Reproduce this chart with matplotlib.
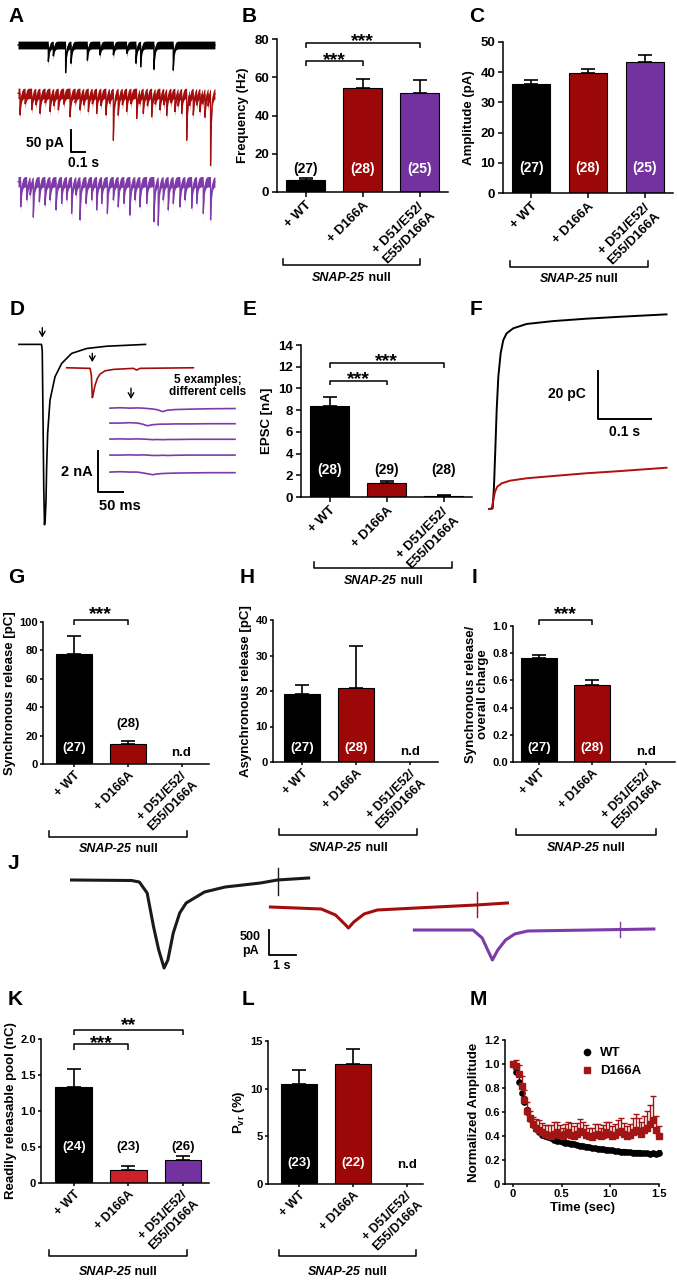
import numpy as np
import matplotlib
matplotlib.use('Agg')
import matplotlib.pyplot as plt
import matplotlib.transforms as mtrans
from matplotlib.lines import Line2D

W, H = 677, 1280
FONT = 'Liberation Sans'
plt.rcParams['font.family'] = [FONT, 'DejaVu Sans']
plt.rcParams['font.weight'] = 'bold'
plt.rcParams['axes.labelweight'] = 'bold'
plt.rcParams['mathtext.fontset'] = 'custom'
plt.rcParams['mathtext.rm'] = FONT + ':bold'
plt.rcParams['axes.linewidth'] = 1.1

BLACK, RED, PURPLE, RED2 = '#000000', '#9c0808', '#7332a0', '#cc2128'
TR_RED, TR_PURPLE = '#a30d0d', '#7d3aa8'

groups = ['+ WT', '+ D166A', '+ D51/E52/\nE55/D166A']

# ---------------- A: spontaneous events (time s, amplitude pA) ----------------
a_wt_t = [0.212, 0.247, 0.333, 0.371, 0.485, 0.573, 0.667, 0.760, 0.825, 0.858, 0.951, 1.086]
a_wt_amp = [38, 25, 64, 42, 35, 23, 23, 19, 42, 50, 56, 58]
a_ko_t = [0.014, 0.050, 0.096, 0.125, 0.154, 0.190, 0.224, 0.250, 0.282, 0.320, 0.364, 0.400,
          0.434, 0.460, 0.492, 0.520, 0.550, 0.580, 0.615, 0.640, 0.667, 0.701, 0.730, 0.760,
          0.790, 0.830, 0.850, 0.876, 0.905, 0.935, 0.960, 0.993, 1.020, 1.040, 1.070, 1.098,
          1.120, 1.145, 1.180, 1.200, 1.226, 1.250, 1.273, 1.290, 1.308, 1.330, 1.347]
a_ko_amp = [50, 24, 38, 26, 46, 22, 42, 28, 38, 25, 54, 22, 38, 26, 42, 24, 46, 28, 50, 22,
            108, 50, 26, 42, 24, 58, 22, 46, 28, 54, 24, 38, 26, 50, 22, 42, 28, 46, 108, 24,
            50, 26, 42, 22, 54, 28, 165]
a_mu_t = [0.019, 0.061, 0.085, 0.107, 0.149, 0.189, 0.224, 0.266, 0.305, 0.340, 0.375, 0.405,
          0.434, 0.476, 0.515, 0.550, 0.585, 0.625, 0.667, 0.701, 0.741, 0.783, 0.818, 0.853,
          0.900, 0.951, 0.981, 1.016, 1.051, 1.086, 1.133, 1.168, 1.215, 1.250, 1.296, 1.347]
a_mu_amp = [58, 42, 30, 81, 46, 54, 42, 65, 50, 42, 73, 30, 88, 50, 42, 65, 50, 73, 42, 58,
            50, 77, 42, 58, 50, 92, 100, 42, 65, 50, 58, 42, 61, 50, 73, 88]

# ---------------- B, C, E: bar data ----------------
b_freq = [6.1, 54.3, 51.6]
b_freq_err = [1.3, 4.9, 6.9]
b_n = [27, 28, 25]
c_amp = [36.2, 39.6, 43.3]
c_amp_err = [1.3, 1.5, 2.4]
c_n = [27, 28, 25]
e_epsc = [8.37, 1.29, 0.12]
e_epsc_err = [0.86, 0.19, 0.03]
e_n = [28, 29, 28]

# ---------------- D: evoked EPSCs (ms, nA) ----------------
d_wt_t = [0, 45, 46.5, 48, 49.5, 51, 52.5, 54, 55.3, 57.3, 62, 72, 85.3, 105.3, 135.3, 175.3, 253]
d_wt_i = [0, 0, -0.3, -3.5, -7.0, -8.8, -8.5, -7.6, -5.97, -4.34, -2.72, -1.58, -0.93, -0.44,
          -0.2, -0.09, 0]
d_ko_t = [0, 46.7, 49.3, 51.3, 53.3, 56.7, 61.3, 66.7, 76.7, 93.3, 133.3, 140, 146.7, 253.3]
d_ko_i = [0, -0.03, -0.36, -1.46, -1.25, -0.85, -0.52, -0.31, -0.15, -0.08, -0.03, -0.11, -0.03, 0]
d_mu_t = [0, 20, 40, 55, 65, 75, 85, 95, 105, 115, 130, 160, 200, 250]
d_mu_1 = [0, 0.02, 0, 0.01, 0, -0.02, -0.04, -0.08, -0.17, -0.10, -0.07, -0.05, -0.03, -0.02]
d_mu_2 = [0, 0, 0.02, 0, -0.05, -0.13, -0.08, -0.06, -0.05, -0.05, -0.04, -0.04, -0.03, -0.03]
d_mu_3 = [0, 0.01, 0, 0.01, 0, -0.01, -0.03, -0.02, -0.03, -0.02, -0.02, -0.01, -0.01, -0.01]
d_mu_4 = [0, 0, 0.01, 0, 0.01, 0, -0.02, -0.02, -0.01, -0.02, -0.01, 0, 0, 0]
d_mu_5 = [0, 0.02, 0, 0, -0.04, -0.08, -0.13, -0.09, -0.07, -0.06, -0.05, -0.04, -0.03, -0.03]

# ---------------- F: cumulative charge (s, pC) ----------------
f_wt_t = [0, 0.0069, 0.0094, 0.0119, 0.0145, 0.0176, 0.022, 0.027, 0.0333, 0.0459, 0.0711,
          0.1214, 0.1843, 0.2472, 0.3352]
f_wt_q = [0, 0.3, 9.3, 24.6, 41.3, 55.1, 64.9, 70.4, 73.2, 75.3, 77.1, 78.3, 79.3, 80.1, 81.1]
f_ko_t = [0, 0.005, 0.0082, 0.0113, 0.0157, 0.024, 0.0396, 0.0711, 0.1214, 0.1843, 0.2472, 0.3352]
f_ko_q = [0, 0, 3.75, 7.2, 9.3, 10.7, 11.8, 12.8, 13.75, 14.9, 15.8, 17.2]

# ---------------- G, H, I ----------------
g_sync = [77.4, 14.2, None]
g_sync_err = [12.4, 2.1, None]
g_n = [27, 28]
h_async = [19.2, 20.9, None]
h_async_err = [2.4, 11.8, None]
h_n = [27, 28]
i_ratio = [0.765, 0.565, None]
i_ratio_err = [0.022, 0.041, None]
i_n = [27, 28]

# ---------------- J: sucrose responses (s, pA) ----------------
j_wt_t = [0, 2.23, 2.52, 2.81, 3.05, 3.24, 3.44, 3.58, 3.78, 4.02, 4.26, 4.94, 5.71, 7.02, 7.65, 8.81]
j_wt_i = [0, -10, -40, -260, -940, -1400, -1760, -1600, -1060, -660, -460, -240, -140, -60, 0, 40]
j_ko_t = [0, 1.89, 2.42, 2.76, 2.9, 3.1, 3.48, 3.97, 5.42, 7.65, 8.81]
j_ko_i = [0, -40, -160, -340, -420, -300, -140, -60, -20, 40, 80]
j_mu_t = [0, 2.18, 2.52, 2.76, 2.9, 3.1, 3.39, 3.73, 4.21, 8.9]
j_mu_i = [0, 0, -160, -440, -600, -400, -200, -80, -20, 20]
j_art_t = [7.66, 7.66, 7.66]
j_art_top = [240, 300, 160]
j_art_bot = [-300, -200, -140]

# ---------------- K, L ----------------
k_rrp = [1.333, 0.18, 0.32]
k_rrp_err = [0.25, 0.05, 0.055]
k_n = [24, 23, 26]
l_pvr = [10.47, 12.63, None]
l_pvr_err = [1.46, 1.57, None]
l_n = [23, 22]

# ---------------- M: normalized amplitude ----------------
m_t = [0.00, 0.03, 0.06, 0.09, 0.12, 0.15, 0.18, 0.21, 0.24, 0.27, 0.30, 0.33, 0.36, 0.39, 0.42,
       0.45, 0.48, 0.51, 0.54, 0.57, 0.60, 0.63, 0.66, 0.69, 0.72, 0.75, 0.78, 0.81, 0.84, 0.87,
       0.90, 0.93, 0.96, 0.99, 1.02, 1.05, 1.08, 1.11, 1.14, 1.17, 1.20, 1.23, 1.26, 1.29, 1.32,
       1.35, 1.38, 1.41, 1.44, 1.47, 1.50]
m_wt = [1.00, 0.93, 0.85, 0.76, 0.68, 0.60, 0.54, 0.49, 0.46, 0.43, 0.41, 0.40, 0.39, 0.38, 0.37,
        0.36, 0.355, 0.35, 0.345, 0.34, 0.335, 0.33, 0.325, 0.32, 0.315, 0.31, 0.305, 0.30, 0.30,
        0.295, 0.29, 0.29, 0.285, 0.28, 0.28, 0.275, 0.275, 0.27, 0.27, 0.265, 0.265, 0.26, 0.26,
        0.26, 0.255, 0.255, 0.255, 0.25, 0.255, 0.25, 0.26]
m_wt_err = [0.00, 0.03, 0.04, 0.05, 0.05, 0.04, 0.03, 0.03, 0.03, 0.02] + [0.02] * 41
m_ko = [1.00, 0.98, 0.92, 0.82, 0.70, 0.61, 0.55, 0.50, 0.47, 0.45, 0.43, 0.42, 0.41, 0.40, 0.42,
        0.43, 0.41, 0.40, 0.42, 0.43, 0.41, 0.40, 0.42, 0.44, 0.43, 0.41, 0.40, 0.39, 0.41, 0.42,
        0.40, 0.41, 0.43, 0.42, 0.40, 0.41, 0.43, 0.44, 0.42, 0.40, 0.41, 0.43, 0.45, 0.44, 0.42,
        0.45, 0.47, 0.50, 0.53, 0.45, 0.40]
m_ko_err = [0.02, 0.05, 0.07, 0.08, 0.08, 0.07, 0.06, 0.06, 0.07, 0.08, 0.08, 0.07, 0.08, 0.09,
            0.10, 0.09, 0.08, 0.07, 0.08, 0.09, 0.10, 0.08, 0.09, 0.10, 0.09, 0.08, 0.07, 0.08,
            0.09, 0.08, 0.07, 0.08, 0.09, 0.10, 0.08, 0.09, 0.10, 0.11, 0.09, 0.08, 0.09, 0.12,
            0.13, 0.11, 0.10, 0.12, 0.14, 0.16, 0.20, 0.12, 0.08]

fig = plt.figure(figsize=(W / 100, H / 100), dpi=100)


def px_axes(l, t, r, b):
    return fig.add_axes([l / W, 1 - b / H, (r - l) / W, (b - t) / H])


def ftext(x, y, s, **kw):
    return fig.text(x / W, 1 - y / H, s, **kw)


def bar_panel(box, vals, errs, colors, ylim, yticks, ylabel, xlim=(-0.5, 2.5),
              tfs=9.5, lfs=9.5, gfs=9.5, cap=5, fmt=None, tlen=3.5, tpad=2, lpad=4):
    ax = px_axes(*box)
    for i, (v, e) in enumerate(zip(vals, errs)):
        if v is None:
            continue
        ax.bar(i, v, width=0.67, color=colors[i], edgecolor='black', linewidth=0.8, zorder=2)
        ax.errorbar(i, v, yerr=[[0], [e]], fmt='none', ecolor='black', elinewidth=1.2,
                    capsize=cap, capthick=1.2, zorder=3)
    ax.set_xlim(*xlim)
    ax.set_ylim(*ylim)
    ax.tick_params(length=tlen, width=1.1, labelsize=tfs, pad=tpad)
    ax.set_yticks(yticks)
    if fmt is not None:
        ax.set_yticklabels([fmt(v) for v in yticks])
    ax.set_xticks(range(3))
    ax.set_xticklabels(groups, rotation=45, ha='right', va='top', rotation_mode='anchor',
                       multialignment='left', fontsize=gfs)
    ax.spines[['top', 'right']].set_visible(False)
    ax.set_ylabel(ylabel, fontsize=lfs, labelpad=lpad)
    return ax


def counts(ax, ns, ys, cols, fs):
    for i, (n, y, c) in enumerate(zip(ns, ys, cols)):
        ax.text(i, y, f'({n})', ha='center', va='center', color=c, fontsize=fs)


def sig(ax, x1, x2, y, drop, stars, dy, fs=14):
    ax.plot([x1, x1, x2, x2], [y - drop, y, y, y - drop], color='black', lw=1.1,
            clip_on=False, solid_capstyle='butt')
    ax.annotate(stars, xy=((x1 + x2) / 2, y), xytext=(0, dy), textcoords='offset pixels',
                ha='center', va='center', fontsize=fs, annotation_clip=False)


def null_bracket(ax, x1, x2, ypx, ytxt, fs):
    tr = mtrans.blended_transform_factory(ax.transData, fig.transFigure)
    y0, y1 = 1 - ypx / H, 1 - (ypx - 6) / H
    ax.plot([x1, x1, x2, x2], [y1, y0, y0, y1], transform=tr, color='black', lw=1.1,
            clip_on=False)
    xc = ax.transData.transform(((x1 + x2) / 2, 0))[0] / W
    yt = 1 - ytxt / H
    t1 = fig.text(xc, yt, 'SNAP-25', style='italic', ha='right', va='center', fontsize=fs)
    t2 = fig.text(xc, yt, ' null', ha='left', va='center', fontsize=fs)
    r = fig.canvas.get_renderer()
    w1 = t1.get_window_extent(r).width
    w2 = t2.get_window_extent(r).width
    shift = (w1 - w2) / 2 / W
    t1.set_x(xc + shift)
    t2.set_x(xc + shift)


def num_fmt(v):
    return '0' if v == 0 else f'{v:.1f}'


# ================= A =================
axA = px_axes(12, 28, 222, 235)
axA.axis('off')
axA.set_xlim(-0.042, 1.427)
axA.set_ylim(-437.8, 39.2)
t_grid = np.arange(0, 1.378, 0.0005)
for times, amps, col, off, hw in [(a_wt_t, a_wt_amp, BLACK, 0, 9),
                                  (a_ko_t, a_ko_amp, TR_RED, -111.3, 12),
                                  (a_mu_t, a_mu_amp, TR_PURPLE, -314.9, 12)]:
    y = np.zeros_like(t_grid)
    for t0, a in zip(times, amps):
        m = t_grid >= t0
        y[m] -= a * np.exp(-(t_grid[m] - t0) / 0.006)
    y = y + off
    axA.fill_between(t_grid, y - hw, y + hw, color=col, lw=0)
    axA.plot(t_grid, y, color=col, lw=0.9)
axA.plot([0.368, 0.368, 0.468], [-195.9, -245.9, -245.9], color='black', lw=1.4)
ftext(64, 143, '50 pA', ha='right', va='center', fontsize=10)
ftext(84, 163, '0.1 s', ha='center', va='center', fontsize=10)

# ================= B =================
axB = bar_panel((277, 39, 448, 192), b_freq, b_freq_err, [BLACK, RED, PURPLE], (0, 80),
                [0, 20, 40, 60, 80], 'Frequency (Hz)')
counts(axB, b_n, [12, 12, 12], ['black', 'white', 'white'], 10)
sig(axB, 0, 1, 68.5, 2.6, '***', 0)
sig(axB, 0, 2, 77.9, 2.6, '***', 1)
null_bracket(axB, -0.4, 2.0, 265, 278, 9)

# ================= C =================
axC = bar_panel((503, 42, 673, 193), c_amp, c_amp_err, [BLACK, RED, PURPLE], (0, 50),
                [0, 10, 20, 30, 40, 50], 'Amplitude (pA)')
counts(axC, c_n, [8.3, 8.3, 8.3], ['white', 'white', 'white'], 10)
null_bracket(axC, -0.37, 2.05, 267, 279, 9)

# ================= D =================
axD = px_axes(15, 320, 245, 535)
axD.axis('off')
axD.set_xlim(-8, 452)
axD.set_ylim(-9.30, 1.19)
axD.plot(d_wt_t, d_wt_i, color=BLACK, lw=1.2)
axD.plot(np.array(d_ko_t) + 95.4, np.array(d_ko_i) - 1.14, color=TR_RED, lw=1.2)
for tr, base in zip([d_mu_1, d_mu_2, d_mu_3, d_mu_4, d_mu_5], [-3.11, -3.84, -4.62, -5.40, -6.23]):
    axD.plot(np.array(d_mu_t) + 182, np.array(tr) + base, color=TR_PURPLE, lw=1.2)
for xa, y_tail, y_tip in [(46.6, 0.95, 0.2), (146.6, -0.3, -1.0), (224, -2.0, -2.8)]:
    axD.annotate('', xy=(xa, y_tip), xytext=(xa, y_tail),
                 arrowprops=dict(arrowstyle='->,head_length=0.35,head_width=0.2', color='black', lw=1))
axD.plot([158.6, 158.6, 208.6], [-5.19, -7.22, -7.22], color='black', lw=1.4)
ftext(93, 472, '2 nA', ha='right', va='center', fontsize=10.5)
ftext(120, 506, '50 ms', ha='center', va='center', fontsize=10.5)
ftext(208, 386, '5 examples;\ndifferent cells', ha='center', va='center', fontsize=8.5,
      linespacing=1.05)

# ================= E =================
axE = bar_panel((301, 345, 472, 497), e_epsc, e_epsc_err, [BLACK, RED, PURPLE], (0, 14),
                [0, 2, 4, 6, 8, 10, 12, 14], 'EPSC [nA]')
counts(axE, e_n, [2.5, 2.5, 2.5], ['white', 'black', 'black'], 10)
sig(axE, 0, 1, 10.71, 0.42, '***', 1)
sig(axE, 0, 2, 12.37, 0.52, '***', 1)
null_bracket(axE, -0.27, 2.15, 568, 581, 9)

# ================= F =================
axF = px_axes(480, 305, 677, 515)
axF.axis('off')
axF.set_xlim(-0.017, 0.355)
axF.set_ylim(-2.5, 85)
axF.plot(f_wt_t, f_wt_q, color=BLACK, lw=1.4)
axF.plot(f_ko_t, f_ko_q, color='#b01010', lw=1.4)
axF.plot([0.2057, 0.2057, 0.3057], [57.5, 37.5, 37.5], color='black', lw=1.4)
ftext(586, 394, '20 pC', ha='right', va='center', fontsize=10)
ftext(625, 432, '0.1 s', ha='center', va='center', fontsize=10)

# ================= lower bar panels: shared styling =================
LOW = dict(tfs=8, lfs=9.5, gfs=9, cap=5, tlen=2.4, tpad=1.2, lpad=2.5)

# ================= G =================
axG = bar_panel((43, 622, 209, 764), g_sync, g_sync_err, [BLACK, RED, None], (0, 100),
                [0, 20, 40, 60, 80, 100], 'Synchronous release [pC]', xlim=(-0.57, 2.51), **LOW)
counts(axG, g_n, [11.6, 28], ['white', 'black'], 9.5)
axG.text(2, 8, 'n.d', ha='center', va='center', fontsize=9.5)
sig(axG, 0, 1, 101.4, 3.5, '***', 5)
null_bracket(axG, -0.45, 2.11, 837, 849, 9)

# ================= H =================
axH = bar_panel((273, 620, 438, 762), h_async, h_async_err, [BLACK, RED, None], (0, 40),
                [0, 10, 20, 30, 40], 'Asynchronous release [pC]', xlim=(-0.53, 2.51), **LOW)
counts(axH, h_n, [3.9, 3.9], ['white', 'white'], 9.5)
axH.text(2, 2.8, 'n.d', ha='center', va='center', fontsize=9.5)
null_bracket(axH, -0.42, 2.13, 835, 848, 9)

# ================= I =================
axI = bar_panel((513, 626, 675, 762), i_ratio, i_ratio_err, [BLACK, RED, None], (0, 1.0),
                [0, 0.2, 0.4, 0.6, 0.8, 1.0], 'Synchronous release/\noverall charge',
                xlim=(-0.485, 2.55), fmt=lambda v: f'{v:.1f}', **LOW)
axI.yaxis.label.set_linespacing(1.0)
counts(axI, i_n, [0.1, 0.1], ['white', 'white'], 9.5)
axI.text(2, 0.074, 'n.d', ha='center', va='center', fontsize=9.5)
sig(axI, 0, 1, 1.044, 0.037, '***', 5)
null_bracket(axI, -0.43, 2.19, 835, 848, 9)

# ================= J =================
axJ = px_axes(50, 850, 677, 985)
axJ.axis('off')
axJ.set_xlim(-0.80, 22.5)
axJ.set_ylim(-2100, 600)
offsets_t = [0, 7.39, 12.74]
offsets_i = [0, -540, -1000]
j_cols = ['#1a1a1a', TR_RED, TR_PURPLE]
for tt, ii, col, dx, dy in zip([j_wt_t, j_ko_t, j_mu_t], [j_wt_i, j_ko_i, j_mu_i], j_cols,
                               offsets_t, offsets_i):
    axJ.plot(np.array(tt) + dx, np.array(ii) + dy, color=col, lw=2.2, solid_joinstyle='round')
for ta, top, bot, col, dx, dy in zip(j_art_t, j_art_top, j_art_bot, j_cols, offsets_t, offsets_i):
    axJ.plot([ta + dx, ta + dx], [top + dy, bot + dy], color=col, lw=1)
axJ.plot([7.34, 7.34, 8.34], [-1000, -1500, -1500], color='black', lw=1.3)
ftext(250, 944, '500\npA', ha='center', va='center', fontsize=9, linespacing=1.15)
ftext(282, 966, '1 s', ha='center', va='center', fontsize=9)

# ================= K =================
axK = bar_panel((41, 1039, 209, 1183), k_rrp, k_rrp_err, [BLACK, RED2, PURPLE], (0, 2.0),
                [0, 0.5, 1.0, 1.5, 2.0], 'Readily releasable pool (nC)', xlim=(-0.6, 2.48),
                fmt=num_fmt, **LOW)
counts(axK, k_n, [0.5, 0.5, 0.5], ['white', 'black', 'black'], 9.5)
sig(axK, 0, 1, 1.93, 0.08, '***', 0)
sig(axK, 0, 2, 2.13, 0.07, '**', 4)
null_bracket(axK, -0.46, 2.08, 1256, 1272, 9)

# ================= L =================
axL = bar_panel((268, 1041, 423, 1184), l_pvr, l_pvr_err, [BLACK, RED, None], (0, 15),
                [0, 5, 10, 15], r'P$_{\mathrm{vr}}$ (%)', xlim=(-0.57, 2.3), **LOW)
counts(axL, l_n, [2.2, 2.2], ['white', 'white'], 9.5)
axL.text(2, 2.0, 'n.d', ha='center', va='center', fontsize=9.5)
null_bracket(axL, -0.37, 2.17, 1256, 1272, 9)

# ================= M =================
axM = px_axes(505, 1040, 659, 1184)
axM.errorbar(m_t, m_wt, yerr=[[0] * len(m_wt_err), m_wt_err], fmt='o', color=BLACK, ms=3.8,
             elinewidth=0.8, capsize=1.5, capthick=0.8, zorder=2, clip_on=False)
axM.errorbar(m_t, m_ko, yerr=[[0] * len(m_ko_err), m_ko_err], fmt='s', color='#a31515', ms=3.8,
             elinewidth=1.0, capsize=2.2, capthick=1.0, zorder=3, clip_on=False)
axM.set_xlim(-0.08, 1.5)
axM.set_ylim(0, 1.2)
axM.set_xticks([0, 0.5, 1.0, 1.5])
axM.set_xticklabels(['0', '0.5', '1.0', '1.5'])
axM.set_yticks([0, 0.2, 0.4, 0.6, 0.8, 1.0, 1.2])
axM.set_yticklabels([num_fmt(v) for v in [0, 0.2, 0.4, 0.6, 0.8, 1.0, 1.2]])
axM.tick_params(length=2.4, width=1.1, labelsize=8, pad=1.2)
axM.spines[['top', 'right']].set_visible(False)
axM.set_xlabel('Time (sec)', fontsize=9.5, labelpad=2)
axM.set_ylabel('Normalized Amplitude', fontsize=9.5, labelpad=3)
handles = [Line2D([], [], marker='o', color=BLACK, ls='none', ms=4.5),
           Line2D([], [], marker='s', color='#a31515', ls='none', ms=4.5)]
axM.legend(handles, ['WT', 'D166A'], loc='upper left', bbox_to_anchor=(582 / W, 1 - 1047 / H),
           bbox_transform=fig.transFigure, frameon=False, handlelength=0.8, handletextpad=0.6,
           fontsize=9.5, borderaxespad=0, borderpad=0, labelspacing=0.45)

# ================= panel letters =================
for letter, x, y in [('A', 8, 22), ('B', 242, 22), ('C', 469, 22), ('D', 10, 315), ('E', 243, 315),
                     ('F', 470, 315), ('G', 8, 583), ('H', 240, 583), ('I', 472, 583),
                     ('J', 8, 869), ('K', 8, 1005), ('L', 242, 1005), ('M', 470, 1005)]:
    ftext(x, y, letter, fontsize=15, ha='left', va='baseline')

fig.savefig('out.png', dpi=100, facecolor='white')
